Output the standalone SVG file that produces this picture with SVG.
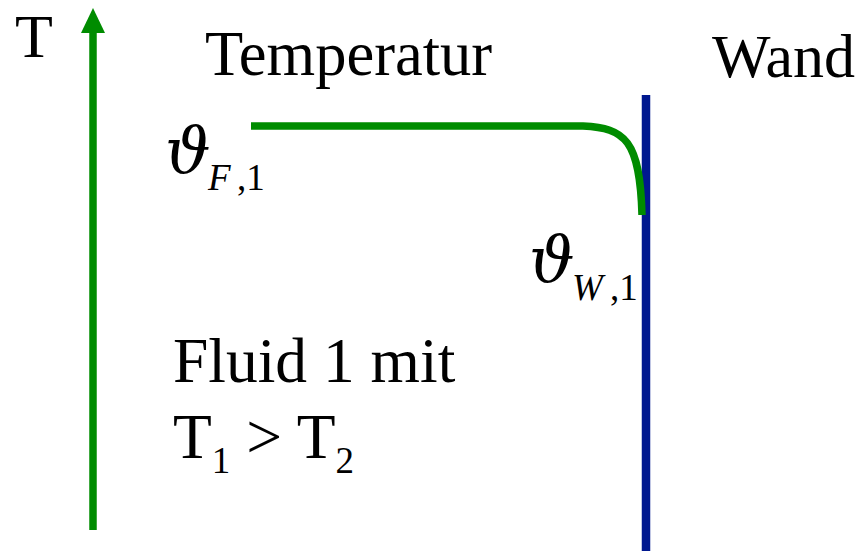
<svg xmlns="http://www.w3.org/2000/svg" width="858" height="551" viewBox="0 0 858 551">
<defs>
<style>
.t{font-family:"Liberation Serif","Times New Roman",serif;fill:#000}
.th{font-family:"DejaVu Serif","Liberation Serif",serif;font-style:italic}
.g{fill:none;stroke:#008c00;stroke-width:7.5}
</style>
</defs>
<rect width="858" height="551" fill="#fff"/>
<g id="connectors">
<line id="axis" x1="93" y1="530" x2="93" y2="33" class="g"/>
<path id="axis-head" d="M81,33 L93,8 L105,33 Z" fill="#008c00"/>
<line id="wall" x1="646" y1="95" x2="646" y2="551" stroke="#00188f" stroke-width="8.5"/>
<path id="temp" class="g" d="M251,126 L583,126 C625,128 640,140 642,215"/>
</g>
<g id="label-T"><text class="t" x="15" y="57" font-size="62">T</text></g>
<g id="label-temperatur"><text class="t" x="205" y="75" font-size="62.5">Temperatur</text></g>
<g id="label-wand"><text class="t" x="712" y="77" font-size="62">Wand</text></g>
<g id="label-thetaF"><text class="t" x="165" y="172" font-size="64"><tspan class="th">ϑ</tspan><tspan font-size="37" font-style="italic" x="208" y="190">F</tspan><tspan font-size="37" x="237">,1</tspan></text></g>
<g id="label-thetaW"><text class="t" x="529" y="281" font-size="64"><tspan class="th">ϑ</tspan><tspan font-size="37" font-style="italic" x="572" y="300">W</tspan><tspan font-size="37" x="610">,1</tspan></text></g>
<g id="label-fluid"><text class="t" x="173" y="382" font-size="63.5">Fluid 1 mit</text>
<text class="t" x="173" y="458" font-size="63.5">T<tspan font-size="37" y="473">1</tspan><tspan y="458"> &gt; T</tspan><tspan font-size="37" y="473">2</tspan></text></g>
</svg>
